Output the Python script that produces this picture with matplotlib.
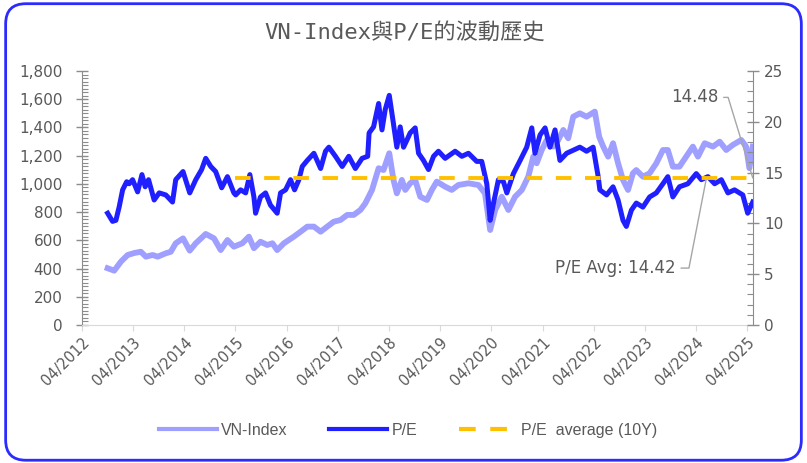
import pandas as pd
import matplotlib.pyplot as plt
import matplotlib.dates as mdates
from matplotlib.patches import FancyBboxPatch
from matplotlib.ticker import FuncFormatter, MultipleLocator

# VN-Index (left axis)
vn_dates = [
    "2012-10-01", "2012-11-17", "2013-01-04", "2013-02-21", "2013-04-09", "2013-05-26",
    "2013-07-01", "2013-08-18", "2013-09-23", "2013-11-20", "2013-12-26", "2014-01-30",
    "2014-03-23", "2014-05-10", "2014-06-22", "2014-09-01", "2014-10-30", "2014-12-17",
    "2015-02-03", "2015-03-21", "2015-05-20", "2015-07-06", "2015-08-11", "2015-09-27",
    "2015-11-14", "2015-12-21", "2016-01-24", "2016-03-12", "2016-05-22", "2016-07-09",
    "2016-08-26", "2016-10-12", "2016-11-29", "2017-01-15", "2017-03-03", "2017-04-20",
    "2017-06-07", "2017-07-23", "2017-09-09", "2017-10-14", "2017-12-01", "2018-01-17",
    "2018-02-21", "2018-04-03", "2018-05-03", "2018-05-27", "2018-07-02", "2018-07-26",
    "2018-08-30", "2018-10-05", "2018-11-10", "2018-12-28", "2019-02-01", "2019-03-08",
    "2019-05-07", "2019-06-23", "2019-08-09", "2019-10-20", "2019-12-30", "2020-02-15",
    "2020-03-23", "2020-04-28", "2020-06-14", "2020-07-31", "2020-09-17", "2020-11-04",
    "2020-12-20", "2021-01-25", "2021-02-18", "2021-03-26", "2021-05-01", "2021-06-17",
    "2021-07-22", "2021-08-27", "2021-10-01", "2021-11-06", "2021-12-23", "2022-02-09",
    "2022-04-09", "2022-05-10", "2022-06-08", "2022-07-13", "2022-08-17", "2022-09-22",
    "2022-10-27", "2022-12-02", "2023-01-06", "2023-01-30", "2023-03-18", "2023-05-05",
    "2023-06-22", "2023-08-08", "2023-09-12", "2023-10-18", "2023-12-04", "2024-01-21",
    "2024-03-09", "2024-04-14", "2024-06-01", "2024-07-30", "2024-09-16", "2024-11-02",
    "2024-12-19", "2025-02-17", "2025-03-24", "2025-04-16", "2025-05-10",
]
vn_values = [
    402, 385, 449, 496, 510, 519,
    484, 496, 484, 508, 519, 579,
    614, 527, 579, 645, 614, 531,
    602, 555, 579, 626, 544, 590,
    567, 579, 531, 579, 626, 661,
    697, 697, 661, 697, 732, 744,
    780, 780, 815, 862, 957, 1111,
    1098, 1217, 1028, 933, 1028, 957,
    1004, 1028, 909, 886, 957, 1016,
    980, 957, 992, 1004, 992, 933,
    673, 815, 909, 815, 909, 957,
    1051, 1193, 1146, 1240, 1311, 1264,
    1311, 1382, 1323, 1476, 1500, 1476,
    1512, 1334, 1264, 1193, 1288, 1146,
    1028, 957, 1075, 1098, 1051, 1075,
    1146, 1240, 1240, 1122, 1122, 1193,
    1264, 1193, 1288, 1264, 1299, 1240,
    1276, 1311, 1264, 1111, 1264,
]

# P/E (right axis)
pe_dates = [
    "2012-10-01", "2012-11-05", "2012-11-29", "2012-12-22", "2013-01-16", "2013-02-14",
    "2013-03-04", "2013-03-28", "2013-05-03", "2013-06-03", "2013-06-26", "2013-07-20",
    "2013-08-29", "2013-10-04", "2013-11-20", "2014-01-07", "2014-01-30", "2014-03-23",
    "2014-05-10", "2014-06-22", "2014-08-03", "2014-09-01", "2014-10-07", "2014-11-11",
    "2014-12-24", "2015-02-03", "2015-03-21", "2015-04-03", "2015-05-08", "2015-06-13",
    "2015-07-13", "2015-08-11", "2015-08-23", "2015-09-27", "2015-11-02", "2015-12-07",
    "2016-01-24", "2016-02-17", "2016-03-24", "2016-04-28", "2016-05-27", "2016-06-27",
    "2016-07-21", "2016-08-26", "2016-10-12", "2016-11-29", "2017-01-03", "2017-01-27",
    "2017-03-15", "2017-05-02", "2017-06-18", "2017-08-04", "2017-09-21", "2017-10-31",
    "2017-11-10", "2017-12-12", "2018-01-17", "2018-02-10", "2018-03-05", "2018-04-03",
    "2018-05-03", "2018-05-27", "2018-06-20", "2018-07-14", "2018-08-07", "2018-08-30",
    "2018-10-05", "2018-10-29", "2018-12-03", "2019-01-08", "2019-02-13", "2019-03-20",
    "2019-05-07", "2019-07-17", "2019-09-03", "2019-10-20", "2019-12-18", "2020-01-23",
    "2020-02-28", "2020-03-23", "2020-04-16", "2020-05-21", "2020-06-26", "2020-07-20",
    "2020-09-05", "2020-10-23", "2020-12-09", "2021-01-14", "2021-02-06", "2021-03-14",
    "2021-04-19", "2021-05-24", "2021-06-29", "2021-08-03", "2021-09-20", "2021-11-06",
    "2021-12-23", "2022-02-09", "2022-03-28", "2022-05-03", "2022-05-15", "2022-07-02",
    "2022-08-17", "2022-09-22", "2022-10-27", "2022-11-20", "2022-12-26", "2023-01-30",
    "2023-03-18", "2023-05-05", "2023-06-22", "2023-08-08", "2023-09-12", "2023-10-18",
    "2023-12-04", "2024-02-02", "2024-04-02", "2024-05-08", "2024-06-24", "2024-08-11",
    "2024-09-28", "2024-11-14", "2024-12-31", "2025-02-28", "2025-04-04", "2025-05-10",
]
pe_values = [
    11.0, 10.2, 10.3, 11.6, 13.3, 14.1,
    13.9, 14.3, 13.1, 14.8, 13.6, 14.3,
    12.3, 13.0, 12.8, 12.1, 14.3, 15.1,
    13.0, 14.3, 15.3, 16.4, 15.6, 15.1,
    13.5, 14.6, 13.0, 12.8, 13.3, 13.0,
    14.8, 12.6, 11.0, 12.6, 13.0, 11.8,
    11.0, 13.0, 13.3, 14.3, 13.3, 14.3,
    15.6, 16.2, 16.9, 15.4, 17.1, 17.5,
    16.6, 15.6, 16.6, 15.4, 16.4, 16.6,
    18.9, 19.5, 21.8, 19.2, 21.2, 22.6,
    19.8, 17.5, 19.5, 17.5, 18.2, 18.9,
    19.4, 16.9, 16.2, 15.3, 16.6, 17.1,
    16.4, 17.1, 16.6, 16.9, 16.1, 16.1,
    13.9, 10.3, 12.0, 14.3, 14.1, 13.0,
    14.9, 16.2, 17.5, 19.4, 16.9, 18.7,
    19.4, 17.5, 19.2, 16.2, 16.9, 17.2,
    17.5, 17.1, 17.5, 14.6, 13.3, 12.8,
    13.6, 12.3, 10.3, 9.7, 11.3, 12.0,
    11.6, 12.6, 13.0, 13.9, 14.6, 12.6,
    13.6, 13.9, 14.9, 14.3, 14.6, 13.9,
    14.3, 13.0, 13.3, 12.8, 11.0, 12.1,
]

# 10Y average P/E
pe_avg = 14.42
pe_avg_start = "2015-04-01"
pe_avg_end = "2025-05-10"
last_label = 14.48

vn_dates = pd.to_datetime(vn_dates)
pe_dates = pd.to_datetime(pe_dates)
avg_dates = pd.to_datetime([pe_avg_start, pe_avg_end])

gray = "#595959"
axis_gray = "#8c8c8c"

fig = plt.figure(figsize=(8.07, 4.63), dpi=100)
ax = fig.add_axes([0.1016, 0.2981, 0.8315, 0.5486])
ax2 = ax.twinx()

ax.plot(vn_dates, vn_values, color="#9f9fff", lw=4.2, solid_joinstyle="round",
        label="VN-Index")
ax2.plot(pe_dates, pe_values, color="#1f1fff", lw=3.6, solid_joinstyle="round",
         label="P/E", zorder=3)
ax2.plot(avg_dates, [pe_avg, pe_avg], color="#ffc000", lw=2.8, ls=(0, (4, 3.5)),
         label="P/E  average (10Y)", zorder=4)

ax.set_ylim(0, 1800)
ax2.set_ylim(0, 25)
ax.set_xlim(pd.Timestamp("2012-04-01"), pd.Timestamp("2025-05-12"))

ax.yaxis.set_major_locator(MultipleLocator(200))
ax.yaxis.set_minor_locator(MultipleLocator(25))
ax.yaxis.set_major_formatter(FuncFormatter(lambda v, p: f"{v:,.0f}"))
ax2.yaxis.set_major_locator(MultipleLocator(5))
ax2.yaxis.set_minor_locator(MultipleLocator(1))

ax.xaxis.set_major_locator(mdates.YearLocator(month=4, day=1))
ax.xaxis.set_major_formatter(mdates.DateFormatter("%m/%Y"))
for lbl in ax.get_xticklabels():
    lbl.set_rotation(45)
    lbl.set_ha("right")
    lbl.set_rotation_mode("anchor")

for a in (ax, ax2):
    a.spines["top"].set_visible(False)
    a.tick_params(axis="y", which="major", direction="inout", length=8, width=1,
                  color=axis_gray, labelsize=11, labelcolor=gray)
    a.tick_params(axis="y", which="minor", direction="in", length=4, width=0.8,
                  color=axis_gray)
ax.tick_params(axis="y", pad=10)
ax2.tick_params(axis="y", pad=4)
ax.tick_params(axis="x", direction="out", length=4, color="#d9d9d9",
               labelsize=10.5, labelcolor=gray, pad=3)
ax.spines["left"].set_color(axis_gray)
ax.spines["right"].set_visible(False)
ax2.spines["left"].set_visible(False)
ax2.spines["bottom"].set_visible(False)
ax2.spines["right"].set_color(axis_gray)
ax.spines["bottom"].set_color("#d9d9d9")

# annotations
ax2.annotate(f"{last_label:.2f}", xy=(pd.Timestamp(pe_avg_end), last_label),
             xytext=(pd.Timestamp("2024-03-20"), 22.4), ha="center", va="center",
             fontsize=12, color=gray,
             arrowprops=dict(arrowstyle="-", color="#a6a6a6", lw=1, relpos=(1, 0.5),
                             shrinkA=2, shrinkB=0,
                             connectionstyle="angle,angleA=0,angleB=107,rad=0"))
ax2.annotate(f"P/E Avg: {pe_avg:.2f}", xy=(pd.Timestamp("2024-06-13"), pe_avg),
             xytext=(pd.Timestamp("2022-09-01"), 5.6), ha="center", va="center",
             fontsize=12, color=gray,
             arrowprops=dict(arrowstyle="-", color="#a6a6a6", lw=1, relpos=(1, 0.5),
                             shrinkA=2, shrinkB=0,
                             connectionstyle="angle,angleA=0,angleB=79,rad=0"))

fig.text(0.502, 0.93, "VN-Index與P/E的波動歷史", ha="center", va="center",
         fontsize=16, color=gray, family=["DejaVu Sans Mono", "Noto Sans CJK TC"])

h1, l1 = ax.get_legend_handles_labels()
h2, l2 = ax2.get_legend_handles_labels()
leg = fig.legend(h1 + h2, l1 + l2, loc="center", bbox_to_anchor=(0.506, 0.07), ncol=3,
                 frameon=False, labelcolor=gray, handlelength=3.6,
                 handletextpad=0.3, columnspacing=2.6,
                 prop={"family": "Liberation Sans", "size": 11.5})
for line in leg.get_lines():
    line.set_linewidth(3)

border = FancyBboxPatch((0.007, 0.006), 0.986, 0.986, transform=fig.transFigure,
                        boxstyle="round,pad=0,rounding_size=0.025",
                        mutation_aspect=807 / 463, ec="#2b2bff", fc="none", lw=2)
fig.patches.append(border)

fig.savefig("out.png", dpi=100)
